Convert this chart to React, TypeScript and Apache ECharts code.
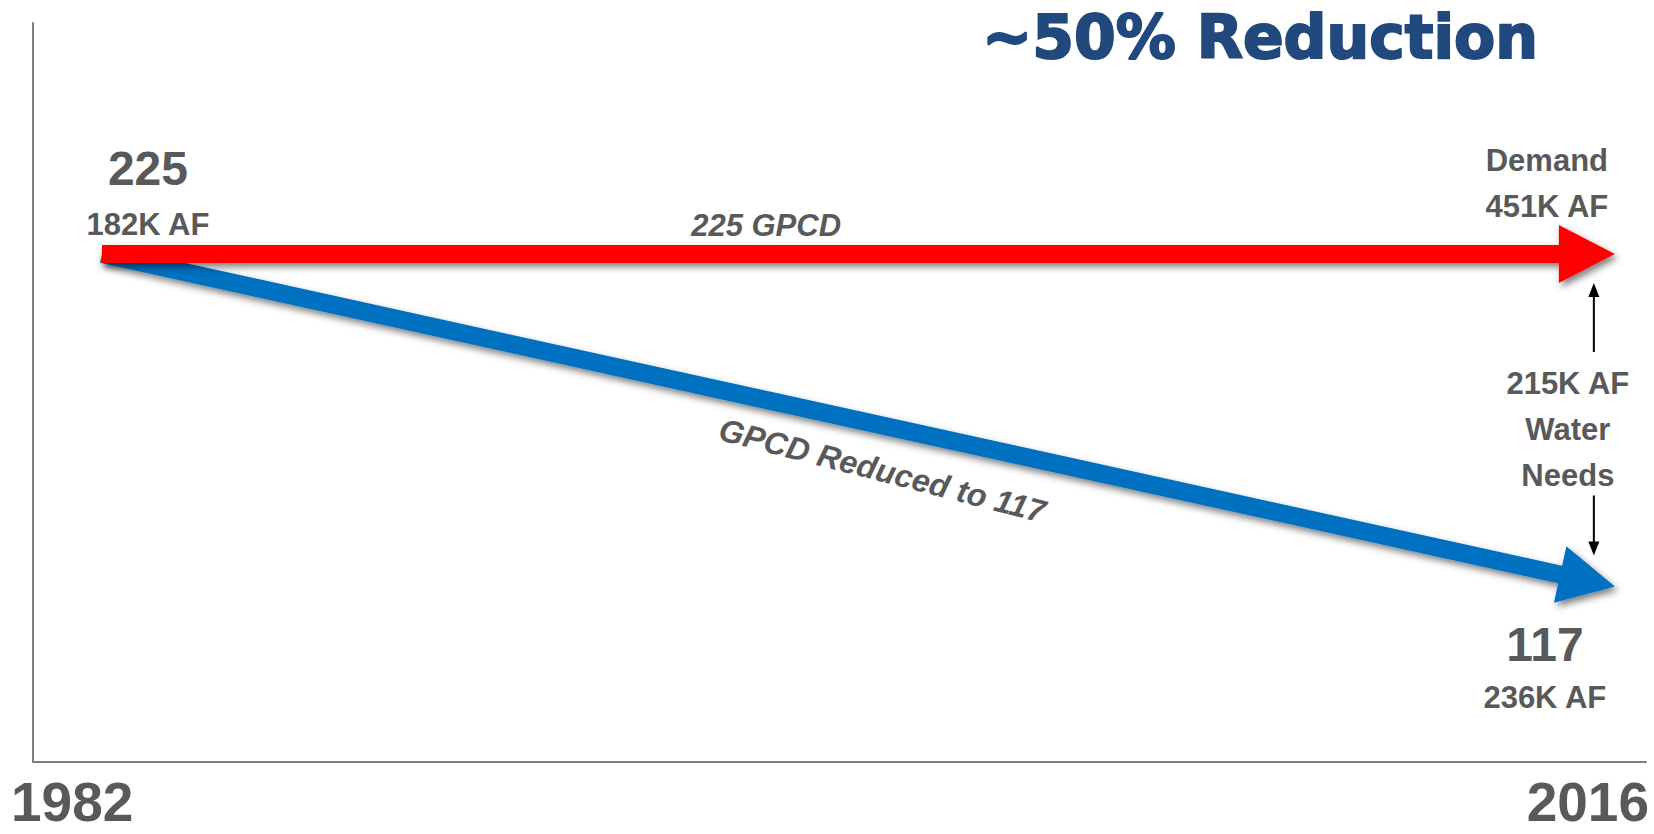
import React, { useEffect, useRef } from "react";
import * as echarts from "echarts";

// ---- data ----
const years = [1982, 2016];
const baselineGpcd = [225, 225];
const reducedGpcd = [225, 117];
const startLabels = ["225", "182K AF"];
const demandLabels = ["Demand", "451K AF"];
const reducedLabels = ["117", "236K AF"];
const gapLabels = ["215K AF", "Water", "Needs"];
const tickLabels = ["1982", "2016"];
const titleText = "~50% Reduction";
const baselineName = "225 GPCD";
const reducedName = "GPCD Reduced to 117";

const GREY = "#595959";
const FONT = "'Liberation Sans', Arial, Helvetica, sans-serif";

function arrowPoints(p0: number[], p1: number[], w: number, hw: number, hl: number) {
  const dx = p1[0] - p0[0];
  const dy = p1[1] - p0[1];
  const len = Math.hypot(dx, dy);
  const ux = dx / len, uy = dy / len;
  const nx = -uy, ny = ux;
  const bx = p1[0] - ux * hl, by = p1[1] - uy * hl;
  return [
    [p0[0] + nx * w, p0[1] + ny * w],
    [bx + nx * w, by + ny * w],
    [bx + nx * hw, by + ny * hw],
    [p1[0], p1[1]],
    [bx - nx * hw, by - ny * hw],
    [bx - nx * w, by - ny * w],
    [p0[0] - nx * w, p0[1] - ny * w],
  ];
}

const shadow = {
  shadowBlur: 7,
  shadowColor: "rgba(0,0,0,0.5)",
  shadowOffsetX: 3,
  shadowOffsetY: 4,
};

function txt(x: number, y: number, text: string, size: number, extra: any = {}) {
  return {
    type: "text",
    x,
    y,
    style: {
      text,
      fill: GREY,
      font: `bold ${size}px ${FONT}`,
      align: "center",
      verticalAlign: "middle",
      ...(extra.style || {}),
    },
    ...(extra.el || {}),
  };
}

export default function App() {
  const ref = useRef<HTMLDivElement>(null);
  useEffect(() => {
    if (!ref.current) return;
    const chart = echarts.init(ref.current, null, { renderer: "svg" });
    const option: any = {
      animation: false,
      backgroundColor: "#ffffff",
      grid: { left: 33, right: 8, top: 23, bottom: 72 },
      xAxis: {
        type: "value",
        min: 1980.45,
        max: 2016.7,
        axisLine: { show: true, lineStyle: { color: "#7f7f7f", width: 2 } },
        axisTick: { show: false },
        axisLabel: { show: false },
        splitLine: { show: false },
      },
      yAxis: {
        type: "value",
        min: 60,
        max: 300,
        axisLine: { show: true, lineStyle: { color: "#7f7f7f", width: 2 } },
        axisTick: { show: false },
        axisLabel: { show: false },
        splitLine: { show: false },
      },
      graphic: [
        {
          type: "text",
          x: 1260,
          y: 37,
          style: {
            text: titleText,
            fill: "#21497D",
            stroke: "#21497D",
            lineWidth: 2,
            font: `bold 60px 'DejaVu Sans', sans-serif`,
            align: "center",
            verticalAlign: "middle",
          },
        },
        {
          type: "text",
          x: 11,
          y: 802,
          style: {
            text: tickLabels[0],
            fill: GREY,
            font: `bold 55px ${FONT}`,
            align: "left",
            verticalAlign: "middle",
          },
        },
        {
          type: "text",
          x: 1649,
          y: 802,
          style: {
            text: tickLabels[1],
            fill: GREY,
            font: `bold 55px ${FONT}`,
            align: "right",
            verticalAlign: "middle",
          },
        },
      ],
      series: [
        {
          name: reducedName,
          type: "custom",
          coordinateSystem: "cartesian2d",
          encode: { x: [0, 2], y: [1, 3] },
          data: [[years[0], reducedGpcd[0], years[1], reducedGpcd[1]]],
          z: 2,
          renderItem: (params: any, api: any) => {
            const p0 = api.coord([api.value(0), api.value(1)]);
            const p1 = api.coord([api.value(2), api.value(3)]);
            const dx = p1[0] - p0[0], dy = p1[1] - p0[1];
            const len = Math.hypot(dx, dy);
            const ux = dx / len, uy = dy / len;
            const t = 0.522;
            const cx = p0[0] + dx * t - uy * 44;
            const cy = p0[1] + dy * t + ux * 44;
            return {
              type: "group",
              children: [
                {
                  type: "polygon",
                  shape: { points: arrowPoints(p0, p1, 9, 29, 56) },
                  style: { fill: "#0070C0", ...shadow },
                },
                txt(cx, cy, reducedName, 32, {
                  style: { font: `italic bold 32px ${FONT}` },
                  el: { rotation: -Math.atan2(dy, dx) - 0.035, originX: 0, originY: 0 },
                }),
                txt(p1[0] - 70, p1[1] + 58, reducedLabels[0], 48),
                txt(p1[0] - 70, p1[1] + 111, reducedLabels[1], 31),
              ],
            };
          },
        },
        {
          name: baselineName,
          type: "custom",
          coordinateSystem: "cartesian2d",
          encode: { x: [0, 2], y: [1, 3] },
          data: [[years[0], baselineGpcd[0], years[1], baselineGpcd[1]]],
          z: 3,
          renderItem: (params: any, api: any) => {
            const p0 = api.coord([api.value(0), api.value(1)]);
            const p1 = api.coord([api.value(2), api.value(3)]);
            return {
              type: "group",
              children: [
                {
                  type: "polygon",
                  shape: { points: arrowPoints(p0, p1, 9, 29, 56) },
                  style: { fill: "#FF0000", ...shadow },
                },
                txt(p0[0] + 46, p0[1] - 85, startLabels[0], 48),
                txt(p0[0] + 46, p0[1] - 29, startLabels[1], 31),
                txt(p0[0] + (p1[0] - p0[0]) * 0.439, p0[1] - 28, baselineName, 31, {
                  style: { font: `italic bold 31px ${FONT}` },
                }),
                txt(p1[0] - 68, p1[1] - 93, demandLabels[0], 31),
                txt(p1[0] - 68, p1[1] - 47, demandLabels[1], 31),
              ],
            };
          },
        },
        {
          name: "gap",
          type: "custom",
          coordinateSystem: "cartesian2d",
          encode: { x: 0, y: [1, 2] },
          data: [[years[1], baselineGpcd[1], reducedGpcd[1]]],
          z: 4,
          renderItem: (params: any, api: any) => {
            const top = api.coord([api.value(0), api.value(1)]);
            const bot = api.coord([api.value(0), api.value(2)]);
            const ax = top[0] - 21;
            const upTip = top[1] + 29;
            const upEnd = top[1] + 98;
            const dnTip = bot[1] - 31;
            const dnEnd = bot[1] - 91;
            const tx = top[0] - 47;
            return {
              type: "group",
              children: [
                { type: "line", shape: { x1: ax, y1: upEnd, x2: ax, y2: upTip + 10 }, style: { stroke: "#000", lineWidth: 2 } },
                { type: "polygon", shape: { points: [[ax, upTip], [ax - 5.5, upTip + 14], [ax + 5.5, upTip + 14]] }, style: { fill: "#000" } },
                { type: "line", shape: { x1: ax, y1: dnEnd, x2: ax, y2: dnTip - 10 }, style: { stroke: "#000", lineWidth: 2 } },
                { type: "polygon", shape: { points: [[ax, dnTip], [ax - 5.5, dnTip - 14], [ax + 5.5, dnTip - 14]] }, style: { fill: "#000" } },
                txt(tx, top[1] + 130, gapLabels[0], 31),
                txt(tx, top[1] + 176, gapLabels[1], 31),
                txt(tx, top[1] + 222, gapLabels[2], 31),
              ],
            };
          },
        },
      ],
    };
    chart.setOption(option);
    return () => chart.dispose();
  }, []);
  return (
    <div
      ref={ref}
      style={{ position: "fixed", left: 0, top: 0, width: 1654, height: 834, background: "#fff" }}
    />
  );
}
